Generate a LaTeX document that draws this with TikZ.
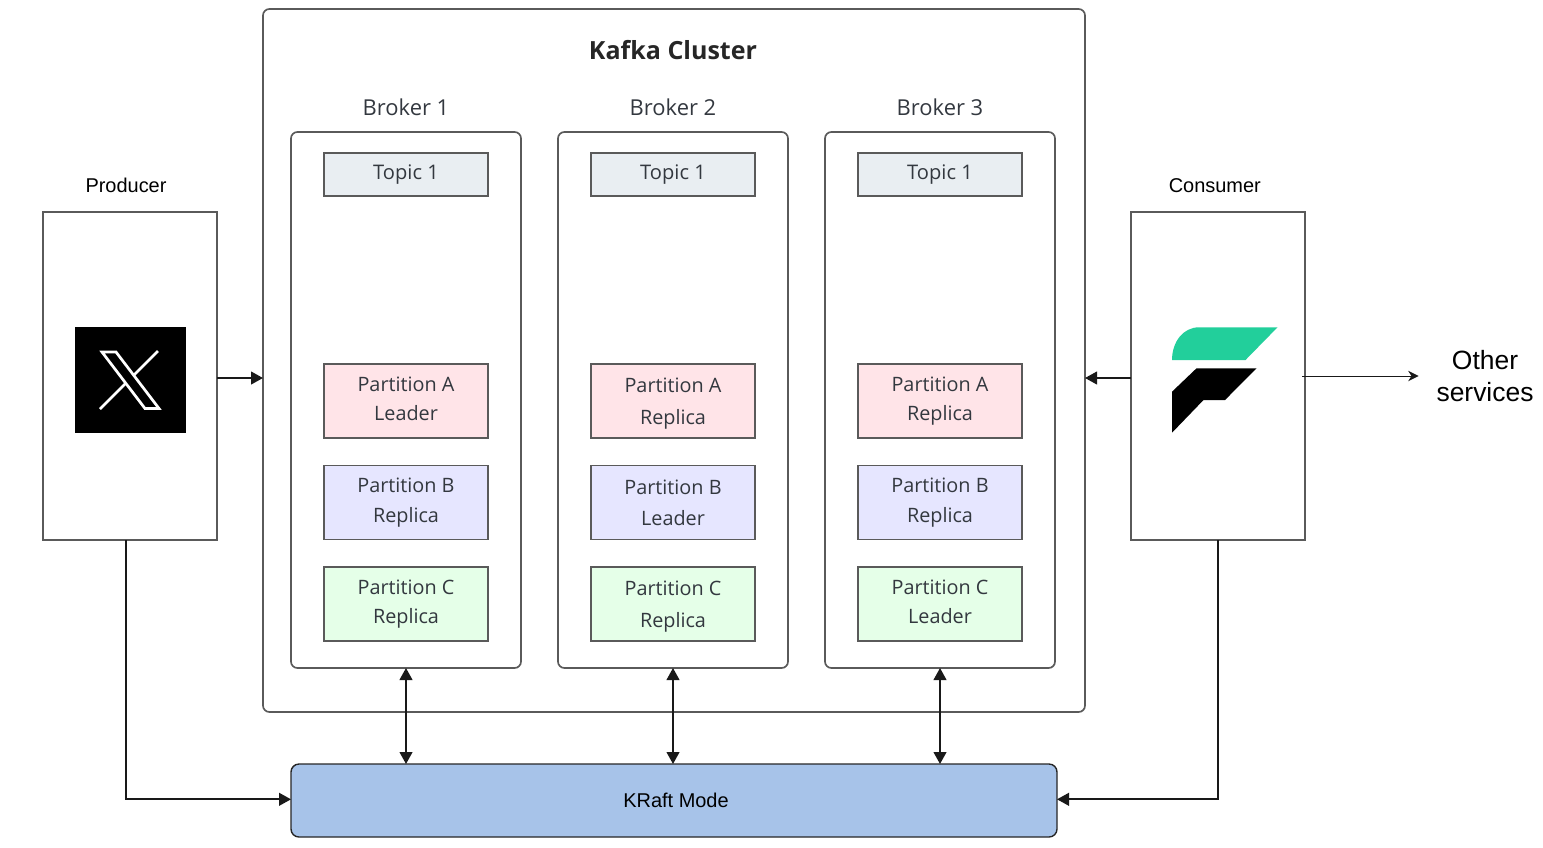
\documentclass[tikz,border=0pt]{standalone}
\usepackage{fontspec}
\setmainfont{Liberation Sans}
\newfontfamily\clusterfont{Open Sans}
\usetikzlibrary{arrows.meta,positioning}
\definecolor{EdgeGray}{HTML}{5A5A5A}
\definecolor{InkGray}{HTML}{33383F}
\definecolor{TopicFill}{HTML}{E9EEF2}
\definecolor{RedFill}{HTML}{FFE4E8}
\definecolor{BlueFill}{HTML}{E6E6FF}
\definecolor{GreenFill}{HTML}{E5FFE8}
\definecolor{KraftFill}{HTML}{A7C3E9}
\definecolor{LogoTeal}{HTML}{22CF9B}

\begin{document}
\begin{tikzpicture}[
  every node/.style={align=center,outer sep=0pt},
  cluster/.style={draw=EdgeGray,line width=0.42mm,rounded corners=1.6mm,minimum width=205.5mm,minimum height=175.75mm},
  broker/.style={draw=EdgeGray,line width=0.42mm,rounded corners=1.6mm,minimum width=57.5mm,minimum height=134mm},
  topic/.style={draw=EdgeGray,line width=0.42mm,fill=TopicFill,text=InkGray,font=\clusterfont\fontsize{14.3}{21}\selectfont,minimum width=41mm,minimum height=10.75mm},
  partA/.style={draw=EdgeGray,line width=0.42mm,fill=RedFill,text=InkGray,font=\clusterfont\fontsize{14.1}{21}\selectfont,minimum width=41mm,minimum height=18.5mm},
  partB/.style={partA,fill=BlueFill},
  partC/.style={partA,fill=GreenFill},
  client/.style={draw=EdgeGray,line width=0.42mm,minimum width=43.5mm,minimum height=82mm},
  kraft/.style={draw=black!85,line width=0.35mm,fill=KraftFill,rounded corners=2mm,minimum width=191.5mm,minimum height=18.25mm,font=\fontsize{14.2}{17}\selectfont},
  label/.style={text=InkGray,font=\clusterfont\fontsize{15.6}{18}\selectfont},
  clientlabel/.style={font=\fontsize{14.2}{17}\selectfont},
  arrow/.style={-{Triangle[length=3mm,width=3.2mm]},line width=0.42mm,color=black!90},
  both/.style={{Triangle[length=3mm,width=3.2mm]}-{Triangle[length=3mm,width=3.2mm]},line width=0.42mm,color=black!90},
  thinarrow/.style={-{Stealth[length=2.6mm,width=2.6mm]},line width=0.22mm,color=black!90}
]
\useasboundingbox (0,0) rectangle (385.75mm,-211.75mm);

\node[cluster] (cluster) at (168.5mm,-90.125mm) {};
\node[font=\clusterfont\bfseries\fontsize{17.8}{22}\selectfont,text=black!85] (title) at (168.25mm,-12.5mm) {Kafka Cluster};

\node[broker,below right=30.75mm and 7mm of cluster.north west] (broker1) {};
\node[broker,right=9.25mm of broker1] (broker2) {};
\node[broker,right=9.25mm of broker2] (broker3) {};
\node[label,above=2.9mm of broker1] (name1) {Broker 1};
\node[label,above=2.9mm of broker2] (name2) {Broker 2};
\node[label,above=2.9mm of broker3] (name3) {Broker 3};

\node[topic,below=5.25mm of broker1.north] (topic1) {Topic 1};
\node[topic,below=5.25mm of broker2.north] (topic2) {Topic 1};
\node[topic,below=5.25mm of broker3.north] (topic3) {Topic 1};

\node[partA,below=42mm of topic1] (a1) {Partition A\\Leader\vphantom{p}};
\node[partB,below=6.9mm of a1] (b1) {Partition B\\Replica};
\node[partC,below=6.9mm of b1] (c1) {Partition C\\Replica};
\node[partA,below=42mm of topic2] (a2) {Partition A\\[0.5mm]\smash{Replica}};
\node[partB,below=6.9mm of a2] (b2) {Partition B\\[0.5mm]Leader};
\node[partC,below=6.9mm of b2] (c2) {Partition C\\[0.5mm]\smash{Replica}};
\node[partA,below=42mm of topic3] (a3) {Partition A\\Replica};
\node[partB,below=6.9mm of a3] (b3) {Partition B\\Replica};
\node[partC,below=6.9mm of b3] (c3) {Partition C\\Leader\vphantom{p}};

\node[client] (producer) at (32.5mm,-94mm) {};
\node[client] (consumer) at (304.5mm,-94mm) {};
\node[clientlabel] (producerlabel) at (31.5mm,-46.4mm) {Producer};
\node[clientlabel] (consumerlabel) at (303.7mm,-46.4mm) {Consumer};
\node[kraft] (raft) at (168.5mm,-200.125mm) {\hspace*{1mm}KRaft Mode};
\node[font=\fontsize{18.8}{22.8}\selectfont,inner sep=4.5mm] (other) at (371.25mm,-94mm) {Other\\services};

% logo of the producer
\node[fill=black,minimum width=27.75mm,minimum height=26.5mm] (xlogo) at ([yshift=-1mm]producer.center) {};
\begin{scope}[shift={(xlogo.center)},x=0.25mm,y=-0.25mm]
  \draw[white,line width=0.68mm] (28,-29)--(-30,29);
  \draw[white,line width=0.68mm,fill=black] (-28,-28)--(-14,-28)--(29,28.5)--(15,28.5)--cycle;
\end{scope}

% logo of the consumer
\coordinate (flogo) at ([shift={(1.75mm,-1mm)}]consumer.center);
\begin{scope}[shift={(flogo)},x=0.25mm,y=-0.25mm]
  \fill[LogoTeal] (-53,-20) .. controls (-53,-38) and (-42,-52.7) .. (-26,-52.7)--(52.5,-52.7)--(20.5,-20)--cycle;
  \fill[black] (-53,11.7)--(-28.5,-11.7)--(31.5,-11.7)--(0,20)--(-21.5,20)--(-53,52.7)--cycle;
\end{scope}

\draw[arrow] ([yshift=-0.5mm]producer.east)--([yshift=-0.5mm]producer.east -| cluster.west);
\draw[arrow] ([yshift=-0.5mm]consumer.west)--([yshift=-0.5mm]consumer.west -| cluster.east);
\draw[thinarrow] ([xshift=-0.75mm]consumer.east)--(other.west);
\draw[both] (broker1.south)--(broker1.south |- raft.north);
\draw[both] (broker2.south)--(broker2.south |- raft.north);
\draw[both] (broker3.south)--(broker3.south |- raft.north);
\draw[arrow] ([xshift=-1mm]producer.south) |- ([yshift=0.3mm]raft.west);
\draw[arrow] (consumer.south) |- ([yshift=0.3mm]raft.east);
\end{tikzpicture}
\end{document}
